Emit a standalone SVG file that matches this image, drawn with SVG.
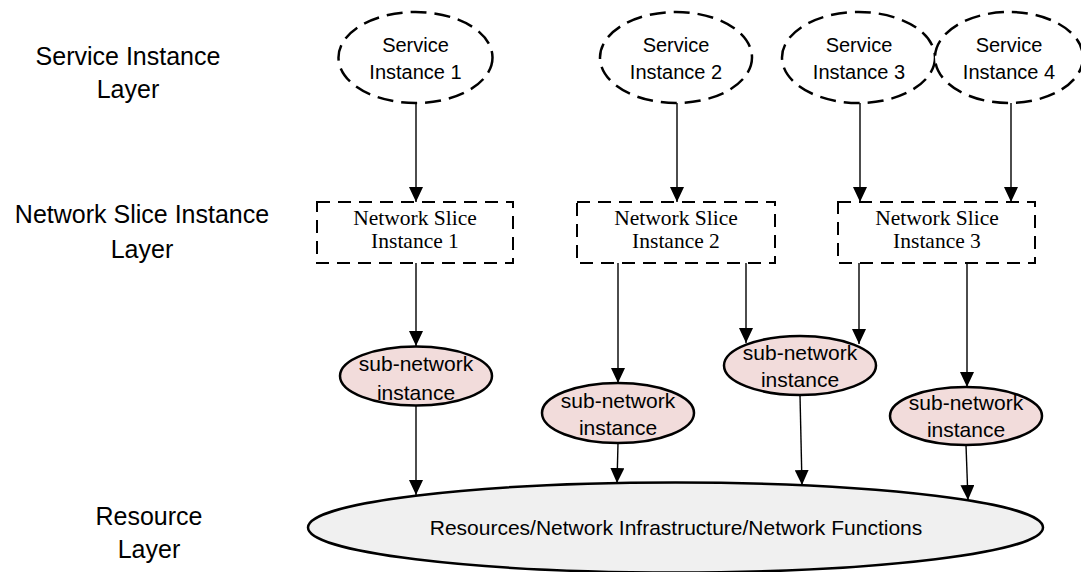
<svg xmlns="http://www.w3.org/2000/svg" width="1081" height="572" viewBox="0 0 1081 572">
<style>
  .sans { font-family: "Liberation Sans", Arial, sans-serif; fill: #000; }
  .serif { font-family: "Liberation Serif", "Times New Roman", serif; fill: #000; }
  .layer { font-size: 25px; }
  .si-text { font-size: 20px; }
  .ns-text { font-size: 21.5px; }
  .sn-text { font-size: 21px; }
  .res-text { font-size: 21px; }
  .si { fill: #fff; stroke: #000; stroke-width: 2.5; stroke-dasharray: 16 8; }
  .ns { fill: #fff; stroke: #000; stroke-width: 2; stroke-dasharray: 13 8; }
  .sn { fill: #F2DCDB; stroke: #000; stroke-width: 2.5; }
  .res { fill: #F0F0F0; stroke: #000; stroke-width: 2.5; }
  .conn { stroke: #000; stroke-width: 1.4; fill: none; marker-end: url(#arrow); }
</style>
<defs>
  <marker id="arrow" viewBox="0 0 15 14" refX="15" refY="7" markerWidth="15" markerHeight="14" markerUnits="userSpaceOnUse" orient="auto">
    <path d="M0,0 L15,7 L0,14 Z" fill="#000"/>
  </marker>
</defs>
<rect width="1081" height="572" fill="#fff"/>

<g id="layer-labels" text-anchor="middle">
  <text class="sans layer" x="128" y="65">Service Instance</text>
  <text class="sans layer" x="128" y="98">Layer</text>
  <text class="sans layer" x="142" y="223">Network Slice Instance</text>
  <text class="sans layer" x="142" y="258">Layer</text>
  <text class="sans layer" x="149" y="525">Resource</text>
  <text class="sans layer" x="149" y="558">Layer</text>
</g>

<g id="connectors">
  <line class="conn" x1="416" y1="103" x2="416" y2="202"/>
  <line class="conn" x1="677" y1="103" x2="677" y2="202"/>
  <line class="conn" x1="860" y1="103" x2="860" y2="202"/>
  <line class="conn" x1="1011" y1="103" x2="1011" y2="202"/>
  <line class="conn" x1="416" y1="263" x2="416" y2="346"/>
  <line class="conn" x1="618" y1="263" x2="618" y2="383"/>
  <line class="conn" x1="746" y1="263" x2="746" y2="343"/>
  <line class="conn" x1="859" y1="263" x2="859" y2="344"/>
  <line class="conn" x1="967" y1="263" x2="967" y2="387"/>
  <line class="conn" x1="416" y1="405" x2="416" y2="495"/>
  <line class="conn" x1="618" y1="443" x2="617" y2="483"/>
  <line class="conn" x1="800" y1="395" x2="802" y2="485"/>
  <line class="conn" x1="966" y1="445" x2="968" y2="500"/>
</g>

<g id="si1">
  <ellipse class="si" cx="415.5" cy="57.5" rx="77" ry="45.5"/>
  <text class="sans si-text" x="415.5" y="52" text-anchor="middle">Service</text>
  <text class="sans si-text" x="415.5" y="79" text-anchor="middle">Instance 1</text>
</g>
<g id="si2">
  <ellipse class="si" cx="676" cy="57.5" rx="76" ry="45.5"/>
  <text class="sans si-text" x="676" y="52" text-anchor="middle">Service</text>
  <text class="sans si-text" x="676" y="79" text-anchor="middle">Instance 2</text>
</g>
<g id="si3">
  <ellipse class="si" cx="858.5" cy="57.5" rx="76.5" ry="45.5"/>
  <text class="sans si-text" x="859" y="52" text-anchor="middle">Service</text>
  <text class="sans si-text" x="859" y="79" text-anchor="middle">Instance 3</text>
</g>
<g id="si4">
  <ellipse class="si" cx="1009" cy="57.5" rx="74" ry="45.5"/>
  <text class="sans si-text" x="1009" y="52" text-anchor="middle">Service</text>
  <text class="sans si-text" x="1009" y="79" text-anchor="middle">Instance 4</text>
</g>

<g id="ns1">
  <rect class="ns" x="317" y="202" width="196" height="61"/>
  <text class="serif ns-text" x="415" y="225" text-anchor="middle">Network Slice</text>
  <text class="serif ns-text" x="415" y="248" text-anchor="middle">Instance 1</text>
</g>
<g id="ns2">
  <rect class="ns" x="577" y="202" width="198" height="61"/>
  <text class="serif ns-text" x="676" y="225" text-anchor="middle">Network Slice</text>
  <text class="serif ns-text" x="676" y="248" text-anchor="middle">Instance 2</text>
</g>
<g id="ns3">
  <rect class="ns" x="838" y="202" width="197" height="61"/>
  <text class="serif ns-text" x="937" y="225" text-anchor="middle">Network Slice</text>
  <text class="serif ns-text" x="937" y="248" text-anchor="middle">Instance 3</text>
</g>

<g id="sn1">
  <ellipse class="sn" cx="416" cy="376" rx="76" ry="29.5"/>
  <text class="sans sn-text" x="416" y="371" text-anchor="middle">sub-network</text>
  <text class="sans sn-text" x="416" y="400" text-anchor="middle">instance</text>
</g>
<g id="sn2">
  <ellipse class="sn" cx="618" cy="413" rx="76" ry="30"/>
  <text class="sans sn-text" x="618" y="408" text-anchor="middle">sub-network</text>
  <text class="sans sn-text" x="618" y="435" text-anchor="middle">instance</text>
</g>
<g id="sn3">
  <ellipse class="sn" cx="800" cy="365.5" rx="76" ry="29.5"/>
  <text class="sans sn-text" x="800" y="360" text-anchor="middle">sub-network</text>
  <text class="sans sn-text" x="800" y="387" text-anchor="middle">instance</text>
</g>
<g id="sn4">
  <ellipse class="sn" cx="966" cy="416" rx="76" ry="29"/>
  <text class="sans sn-text" x="966" y="410" text-anchor="middle">sub-network</text>
  <text class="sans sn-text" x="966" y="437" text-anchor="middle">instance</text>
</g>

<g id="resources">
  <ellipse class="res" cx="675.5" cy="527.5" rx="367.5" ry="45"/>
  <text class="sans res-text" x="676" y="535" text-anchor="middle">Resources/Network Infrastructure/Network Functions</text>
</g>
</svg>
